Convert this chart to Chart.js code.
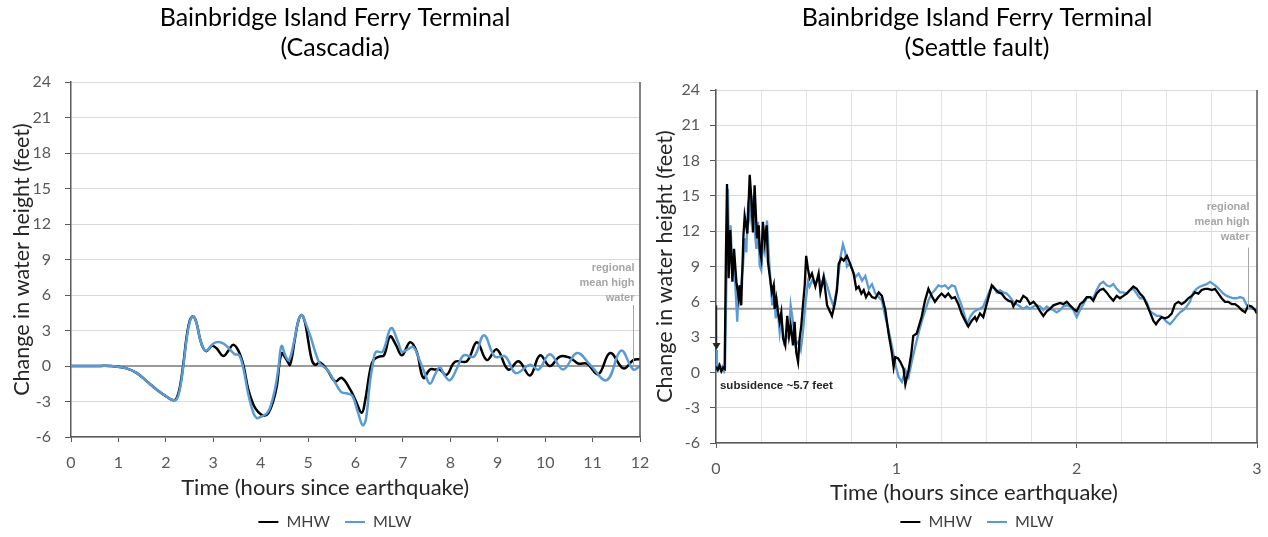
<!DOCTYPE html>
<html>
<head>
<meta charset="utf-8">
<title>Bainbridge Island Ferry Terminal</title>
<script src="https://cdn.jsdelivr.net/npm/chart.js@4.4.1/dist/chart.umd.min.js"></script>
<style>
  html, body { margin: 0; padding: 0; background: #fff; overflow: hidden; width: 1268px; height: 537px; }
  canvas { position: absolute; top: 0; }
  #cascadia { left: 0; }
  #seattle { left: 640px; }
</style>
</head>
<body>
<canvas id="cascadia" width="670" height="540"></canvas>
<canvas id="seattle" width="674" height="540"></canvas>
<script>
// ---- Cascadia scenario: [hours since earthquake, change in water height (ft)]
const cascadiaMHW = [
  [0,0],[0.5,0],[0.82,0],[1.17,-0.2],[1.39,-0.6],[1.6,-1.3],[1.81,-2.0],[2.02,-2.6],[2.16,-2.9],[2.23,-2.7],
  [2.3,-1.7],[2.37,0.2],[2.44,2.5],[2.51,3.9],[2.58,4.2],[2.65,3.6],[2.72,2.3],[2.79,1.5],[2.86,1.26],[2.97,1.7],
  [3.07,1.5],[3.21,0.84],[3.32,1.3],[3.42,1.8],[3.53,1.3],[3.64,0],[3.74,-2.0],[3.85,-3.3],[3.95,-3.9],
  [4.06,-4.2],[4.16,-4.0],[4.27,-2.9],[4.34,-1.7],[4.44,1.06],[4.55,0.5],[4.62,0.1],[4.73,2.5],[4.8,3.9],[4.87,4.3],[4.94,3.6],
  [5.0,2.2],[5.08,0.5],[5.15,0.1],[5.25,0.3],[5.4,-0.3],[5.57,-1.3],[5.71,-1.0],[5.89,-2.0],
  [6.0,-2.9],[6.13,-3.95],[6.2,-3.0],[6.31,-0.3],[6.38,0.5],[6.5,0.8],[6.6,0.9],[6.73,2.5],[6.85,1.8],[6.98,0.9],
  [7.15,2.0],[7.29,1.2],[7.43,-1.0],[7.57,-0.3],[7.68,-0.3],[7.78,-0.3],[7.92,-0.75],
  [8.1,0.36],[8.35,0.4],[8.56,2.0],[8.77,0.5],[8.98,1.4],[9.22,-0.3],[9.44,0.4],[9.68,-0.8],[9.89,0.9],
  [10.1,0.0],[10.31,0.8],[10.52,0.7],[10.7,0.2],[10.88,0.2],[11.12,-0.7],[11.37,1.1],[11.65,-0.2],[11.86,0.5],[12.0,0.6]
];
const cascadiaMLW = [
  [0,0],[0.5,0],[0.82,0],[1.17,-0.2],[1.39,-0.6],[1.6,-1.3],[1.81,-2.0],[2.02,-2.6],[2.16,-2.9],[2.23,-2.8],
  [2.3,-1.9],[2.37,0],[2.44,2.3],[2.51,3.8],[2.58,4.2],[2.65,3.6],[2.72,2.3],[2.79,1.5],[2.86,1.3],[2.95,1.7],
  [3.05,2.0],[3.15,2.0],[3.25,1.8],[3.35,1.4],[3.45,1.0],[3.55,0.9],[3.64,-0.3],[3.74,-2.4],[3.85,-4.0],[3.92,-4.4],
  [4.0,-4.3],[4.13,-4.0],[4.2,-3.5],[4.3,-2.0],[4.38,0],[4.44,1.7],[4.53,0.8],[4.6,0.5],[4.7,2.0],[4.8,3.9],[4.87,4.3],[4.95,3.6],
  [5.05,2.5],[5.15,1.2],[5.25,0.2],[5.4,-0.3],[5.57,-1.4],[5.7,-2.2],[5.8,-2.3],[5.93,-2.5],
  [6.05,-3.9],[6.15,-5.0],[6.22,-4.5],[6.3,-1.5],[6.38,0.5],[6.43,1.2],[6.57,1.2],[6.75,3.2],[6.9,2.0],[6.98,1.2],
  [7.1,1.4],[7.22,1.6],[7.35,0.5],[7.45,-0.5],[7.57,-1.5],[7.68,-0.7],[7.78,-0.1],[7.88,-0.8],[7.99,-1.2],
  [8.14,-0.2],[8.28,0.9],[8.5,0.8],[8.71,2.6],[8.94,0.8],[9.16,0.8],[9.38,-0.6],[9.68,0.1],[9.86,-0.3],
  [10.1,1.0],[10.38,-0.3],[10.67,1.1],[10.95,0.1],[11.3,-1.2],[11.6,1.3],[11.86,-0.3],[12.0,0.0]
];

// ---- Seattle fault scenario
const seattleMHW = [
  [0,0.5],[0.01,0.2],[0.02,0.6],[0.03,0.1],[0.04,0.4],[0.048,0.3],[0.055,10],[0.061,16.0],[0.07,8.0],[0.079,12.1],
  [0.091,7.7],[0.1,10.5],[0.113,7.7],[0.126,6.3],[0.132,7.4],[0.14,5.7],[0.152,11.6],[0.159,13.3],[0.174,11.8],[0.187,16.8],
  [0.196,14.8],[0.205,11.9],[0.214,15.9],[0.227,11.4],[0.237,12.5],[0.242,10.5],[0.251,9.7],[0.26,12.8],[0.27,11.1],[0.281,12.5],
  [0.288,9.4],[0.298,8.2],[0.31,6.8],[0.32,7.4],[0.325,5.4],[0.334,6.3],[0.344,5.1],[0.353,4.3],[0.362,5.1],[0.372,2.9],
  [0.384,2.3],[0.395,4.8],[0.405,3.1],[0.414,4.0],[0.427,2.3],[0.436,4.3],[0.445,1.7],[0.455,0.9],[0.464,2.9],[0.473,4.0],
  [0.482,5.7],[0.492,7.4],[0.5,9.9],[0.51,8.8],[0.519,8.0],[0.532,8.4],[0.551,7.3],[0.569,8.4],[0.579,6.8],[0.597,8.1],
  [0.606,7.0],[0.616,5.7],[0.628,5.3],[0.643,4.8],[0.658,5.8],[0.671,7.0],[0.68,9.2],[0.695,9.7],[0.708,9.5],[0.726,9.9],
  [0.745,9.2],[0.763,8.4],[0.778,7.1],[0.791,7.3],[0.806,6.7],[0.819,7.0],[0.832,6.4],[0.847,6.8],[0.865,6.4],[0.884,6.3],
  [0.902,6.8],[0.92,6.5],[0.939,5.3],[0.957,3.3],[0.976,1.6],[0.985,0.45],[0.994,1.3],[1.009,1.2],[1.022,0.9],[1.04,0.3],
  [1.05,-1.0],[1.068,0.2],[1.083,1.6],[1.094,3.1],[1.113,3.3],[1.14,4.7],[1.159,6.1],[1.178,7.1],[1.196,6.5],[1.214,6.0],
  [1.233,6.4],[1.251,6.7],[1.27,6.4],[1.288,6.7],[1.307,6.3],[1.325,6.4],[1.344,5.8],[1.362,5.0],[1.381,4.4],[1.399,3.9],
  [1.418,4.4],[1.436,4.7],[1.445,4.4],[1.464,5.0],[1.482,4.7],[1.501,5.8],[1.519,6.8],[1.529,7.4],[1.547,7.1],[1.566,6.8],
  [1.584,6.7],[1.603,6.3],[1.621,6.1],[1.64,6.0],[1.649,5.6],[1.667,6.1],[1.686,6.0],[1.704,6.5],[1.723,6.3],[1.741,5.8],
  [1.76,6.0],[1.778,5.7],[1.797,5.2],[1.815,4.8],[1.834,5.2],[1.852,5.4],[1.871,5.7],[1.889,5.8],[1.908,5.9],[1.926,5.8],
  [1.945,6.0],[1.963,5.7],[1.982,5.4],[2.0,5.2],[2.019,5.8],[2.037,6.0],[2.056,6.4],[2.074,6.4],[2.092,6.1],[2.111,6.7],
  [2.129,7.0],[2.148,7.1],[2.166,6.8],[2.185,6.4],[2.203,6.1],[2.222,6.5],[2.24,6.3],[2.259,6.5],[2.277,6.7],[2.296,7.0],
  [2.314,7.3],[2.333,7.1],[2.351,6.7],[2.37,6.4],[2.388,5.8],[2.407,5.1],[2.425,4.4],[2.44,4.1],[2.453,4.4],[2.471,4.7],
  [2.49,4.6],[2.508,4.7],[2.527,5.0],[2.545,5.8],[2.564,6.0],[2.582,5.8],[2.601,6.0],[2.619,6.3],[2.638,6.5],[2.656,6.8],
  [2.675,6.7],[2.693,7.0],[2.712,7.1],[2.73,7.1],[2.749,7.0],[2.767,7.1],[2.786,6.7],[2.804,6.3],[2.823,6.0],[2.841,6.0],
  [2.86,5.8],[2.878,5.8],[2.897,5.6],[2.915,5.3],[2.934,5.1],[2.952,5.7],[2.97,5.6],[2.989,5.3],[3.0,5.0]
];
const seattleMLW = [
  [0,1.9],[0.005,0.3],[0.015,0.6],[0.025,0.2],[0.035,0.5],[0.045,0.1],[0.05,0.3],[0.058,8],[0.066,15.6],[0.072,9.1],
  [0.081,12.5],[0.09,8.8],[0.1,9.9],[0.109,6.8],[0.118,4.3],[0.126,7.4],[0.135,6.5],[0.14,7.7],[0.15,9.1],[0.159,11.4],
  [0.168,10.2],[0.177,13.9],[0.187,13.1],[0.196,15.0],[0.205,13.3],[0.214,12.2],[0.224,10.5],[0.233,12.8],[0.242,9.1],[0.251,8.7],
  [0.26,10.8],[0.27,10.2],[0.283,12.9],[0.292,10.2],[0.301,8.0],[0.312,5.7],[0.322,7.4],[0.331,4.6],[0.34,5.7],[0.353,3.4],
  [0.362,4.6],[0.377,2.6],[0.39,3.1],[0.403,2.9],[0.414,5.7],[0.427,4.3],[0.44,2.3],[0.455,2.6],[0.47,1.9],[0.482,3.4],
  [0.495,5.7],[0.51,7.7],[0.519,7.3],[0.532,7.8],[0.551,7.5],[0.569,8.0],[0.588,7.5],[0.597,8.2],[0.616,7.4],[0.634,6.4],
  [0.652,5.6],[0.665,6.7],[0.68,8.4],[0.69,9.8],[0.704,10.9],[0.717,10.2],[0.726,9.0],[0.739,9.2],[0.754,8.8],[0.773,8.1],
  [0.791,8.4],[0.81,7.8],[0.828,8.2],[0.847,7.1],[0.865,7.5],[0.884,6.7],[0.902,6.4],[0.92,6.1],[0.939,4.7],[0.957,3.6],
  [0.976,2.2],[0.994,0.7],[1.013,-0.4],[1.031,-0.8],[1.05,0.2],[1.068,-0.4],[1.087,1.0],[1.105,2.2],[1.124,3.4],[1.142,4.4],
  [1.161,5.3],[1.18,6.2],[1.196,6.7],[1.214,7.0],[1.233,7.4],[1.251,7.3],[1.27,7.4],[1.288,7.1],[1.307,7.4],[1.325,7.3],
  [1.344,6.4],[1.362,5.7],[1.381,4.7],[1.393,4.1],[1.409,4.7],[1.427,5.1],[1.445,5.3],[1.464,5.4],[1.482,5.6],[1.501,6.3],
  [1.519,7.0],[1.538,7.3],[1.556,6.8],[1.575,7.0],[1.593,6.8],[1.612,6.7],[1.63,6.4],[1.649,6.0],[1.667,5.8],[1.686,5.6],
  [1.704,5.4],[1.723,5.6],[1.741,5.4],[1.76,5.6],[1.778,5.7],[1.797,5.6],[1.815,5.3],[1.834,5.6],[1.852,5.4],[1.871,5.3],
  [1.889,5.1],[1.908,5.3],[1.926,5.6],[1.945,5.7],[1.963,5.6],[1.982,5.3],[2.0,4.7],[2.019,5.3],[2.037,5.8],[2.056,6.3],
  [2.074,6.4],[2.092,6.3],[2.111,7.0],[2.129,7.5],[2.148,7.7],[2.166,7.4],[2.185,7.3],[2.203,7.5],[2.222,7.1],[2.24,6.8],
  [2.259,6.8],[2.277,6.7],[2.296,7.0],[2.314,7.1],[2.333,6.7],[2.351,6.3],[2.37,6.3],[2.388,6.0],[2.407,5.2],[2.425,5.0],
  [2.444,4.8],[2.462,4.8],[2.481,4.6],[2.499,4.3],[2.518,4.1],[2.536,4.4],[2.555,4.8],[2.573,5.1],[2.592,5.3],[2.61,5.6],
  [2.628,6.0],[2.647,6.8],[2.665,7.1],[2.684,7.3],[2.702,7.4],[2.721,7.5],[2.74,7.7],[2.758,7.5],[2.776,7.3],[2.795,7.0],
  [2.813,6.7],[2.832,6.5],[2.85,6.4],[2.869,6.3],[2.887,6.3],[2.906,6.4],[2.924,6.3],[2.943,5.7],[2.961,5.5],[2.98,5.4],[3.0,5.3]
];

// ---- Reference levels and labels
const seriesNames = ['MHW', 'MLW'];
const yTicks = { min: -6, max: 24, step: 3 };
const cascadiaTitle = ['Bainbridge Island Ferry Terminal', '(Cascadia)'];
const seattleTitle = ['Bainbridge Island Ferry Terminal', '(Seattle fault)'];
const xAxisTitle = 'Time (hours since earthquake)';
const yAxisTitle = 'Change in water height (feet)';
const mhwLabel = ['regional', 'mean high', 'water'];
const cascadiaMhwLevel = 0;
const seattleMhwLevel = 5.4;
const subsidence = { text: 'subsidence ~5.7 feet', from: 5.7, to: 1.9 };

const COLORS = { mhw: '#000000', mlw: '#5b9bd5', axis: '#595959', grid: '#d9d9d9', note: '#a6a6a6', text: '#262626' };
const toXY = pts => pts.map(([x, y]) => ({ x, y }));

// draws the regional mean-high-water line, its pointer label, the right frame,
// the time-axis caption and the subsidence arrow
function referencePlugin(cfg) {
  return {
    id: 'referenceMarks',
    beforeDatasetsDraw(chart) {
      const { ctx, chartArea: a, scales: { y } } = chart;
      const py = y.getPixelForValue(cfg.level);
      ctx.save();
      ctx.strokeStyle = '#9a9a9a';
      ctx.lineWidth = 2;
      ctx.beginPath(); ctx.moveTo(a.left, py); ctx.lineTo(a.right, py); ctx.stroke();
      ctx.restore();
    },
    afterDatasetsDraw(chart) {
      const { ctx, chartArea: a, scales: { x, y } } = chart;
      ctx.save();
      ctx.strokeStyle = COLORS.axis;
      ctx.lineWidth = 1.5;
      ctx.beginPath(); ctx.moveTo(a.right, a.top); ctx.lineTo(a.right, a.bottom); ctx.stroke();

      const px = Math.round(x.getPixelForValue(cfg.pointerAt)) + 0.5;
      ctx.strokeStyle = COLORS.note;
      ctx.lineWidth = 1;
      ctx.beginPath();
      ctx.moveTo(px, y.getPixelForValue(cfg.pointerTop));
      ctx.lineTo(px, y.getPixelForValue(cfg.level));
      ctx.stroke();

      ctx.fillStyle = COLORS.note;
      ctx.font = 'bold 11px "Liberation Sans", Arial, sans-serif';
      ctx.textAlign = 'right';
      ctx.textBaseline = 'middle';
      const base = y.getPixelForValue(cfg.labelAt);
      mhwLabel.forEach((s, i) => ctx.fillText(s, px + 1, base - (mhwLabel.length - 1 - i) * 14.8));

      // time-axis caption
      ctx.fillStyle = COLORS.text;
      ctx.font = '22px Lato, sans-serif';
      ctx.textAlign = 'center';
      ctx.fillText(xAxisTitle, x.getPixelForValue(cfg.captionAt), a.bottom + cfg.captionOffset);

      if (cfg.arrow) {
        const ax = Math.round(x.getPixelForValue(0)) + 0.5;
        const y1 = y.getPixelForValue(cfg.arrow.from);
        const y2 = y.getPixelForValue(cfg.arrow.to);
        ctx.strokeStyle = COLORS.text;
        ctx.fillStyle = COLORS.text;
        ctx.lineWidth = 1.5;
        ctx.beginPath(); ctx.moveTo(ax, y1); ctx.lineTo(ax, y2 - 5); ctx.stroke();
        ctx.beginPath(); ctx.moveTo(ax - 4, y2 - 7); ctx.lineTo(ax + 4, y2 - 7); ctx.lineTo(ax, y2); ctx.closePath(); ctx.fill();
        ctx.font = 'bold 11.5px "Liberation Sans", Arial, sans-serif';
        ctx.textAlign = 'left';
        ctx.fillText(cfg.arrow.text, x.getPixelForValue(cfg.arrow.textX), y.getPixelForValue(cfg.arrow.textY));
      }
      ctx.restore();
    }
  };
}

Chart.defaults.font.family = 'Lato, "Open Sans", sans-serif';

function buildChart(canvasId, o) {
  const tickFont = { family: 'Lato', size: 16 };
  const titleFont = { family: 'Lato', size: 21.5, lineHeight: 0.6 };
  return new Chart(document.getElementById(canvasId), {
    type: 'line',
    data: {
      datasets: [
        { label: seriesNames[0], data: toXY(o.mhw), borderColor: COLORS.mhw, backgroundColor: COLORS.mhw,
          borderWidth: o.lineWidth, tension: o.tension, pointRadius: 0, order: o.mhwOrder, yAxisID: 'y' },
        { label: seriesNames[1], data: toXY(o.mlw), borderColor: COLORS.mlw, backgroundColor: COLORS.mlw,
          borderWidth: o.lineWidth, tension: o.tension, pointRadius: 0, order: o.mlwOrder, yAxisID: 'y' }
      ]
    },
    options: {
      responsive: false,
      animation: false,
      devicePixelRatio: 1,
      layout: { padding: 0 },
      plugins: {
        title: {
          display: true, text: o.title, color: '#000',
          font: { family: 'Lato', size: 25, weight: 'normal', lineHeight: 1.2 },
          padding: { top: 3, bottom: o.titleGap }
        },
        legend: {
          position: 'bottom',
          labels: {
            boxWidth: 20, boxHeight: 2, padding: 15, color: '#404040',
            font: { family: 'Lato', size: 16 },
            sort: (a, b) => a.datasetIndex - b.datasetIndex,
            generateLabels: chart => Chart.defaults.plugins.legend.labels.generateLabels(chart)
              .map(item => Object.assign(item, { lineWidth: 0 }))
          }
        },
        tooltip: { enabled: false }
      },
      scales: {
        x: {
          type: 'linear', min: 0, max: o.xMax,
          ticks: {
            stepSize: o.xStep, autoSkip: false, maxRotation: 0, color: COLORS.axis, font: tickFont, padding: 11,
            callback: v => Number.isInteger(v) ? String(v) : ''
          },
          grid: {
            drawOnChartArea: o.xGrid, color: '#e3e3e3', tickLength: 5,
            tickColor: c => (c.tick && Number.isInteger(c.tick.value)) ? COLORS.axis : 'rgba(0,0,0,0)'
          },
          border: { color: COLORS.axis, width: 1.5 },
          title: { display: false },
          afterFit(s) { s.height = o.xAxisHeight; }
        },
        y: {
          min: yTicks.min, max: yTicks.max,
          ticks: { stepSize: yTicks.step, color: COLORS.axis, font: tickFont, padding: o.yTickPad },
          grid: { color: COLORS.grid, tickLength: 6, tickColor: COLORS.axis },
          border: { color: COLORS.axis, width: 1.5 },
          title: { display: true, text: yAxisTitle, color: COLORS.text, font: titleFont,
                   padding: { top: o.yTitlePad, bottom: 0 } },
          afterFit(s) { s.width = o.yAxisWidth; }
        },
        pad: {
          position: 'right', display: true,
          grid: { display: false }, ticks: { display: false }, border: { display: false },
          afterFit(s) { s.width = o.rightGap; }
        }
      }
    },
    plugins: [referencePlugin(o.ref)]
  });
}

buildChart('cascadia', {
  title: cascadiaTitle, mhw: cascadiaMHW, mlw: cascadiaMLW,
  lineWidth: 2.5, tension: 0.4, mhwOrder: 1, mlwOrder: 0,
  xMax: 12, xStep: 1, xGrid: false,
  titleGap: 19, xAxisHeight: 62, yTickPad: 14, yTitlePad: 16, yAxisWidth: 71, rightGap: 30,
  ref: { level: cascadiaMhwLevel, pointerAt: 11.86, pointerTop: 5.15, labelAt: 5.75,
         captionAt: 5.36, captionOffset: 51 }
});

buildChart('seattle', {
  title: seattleTitle, mhw: seattleMHW, mlw: seattleMLW,
  lineWidth: 2.3, tension: 0, mhwOrder: 0, mlwOrder: 1,
  xMax: 3, xStep: 0.25, xGrid: true,
  titleGap: 27, xAxisHeight: 56, yTickPad: 10, yTitlePad: 19, yAxisWidth: 76, rightGap: 57,
  ref: { level: seattleMhwLevel, pointerAt: 2.95, pointerTop: 10.6, labelAt: 11.55,
         captionAt: 1.43, captionOffset: 50,
         arrow: { from: subsidence.from, to: subsidence.to, text: subsidence.text, textX: 0.022, textY: -1.1 } }
});
</script>
</body>
</html>
